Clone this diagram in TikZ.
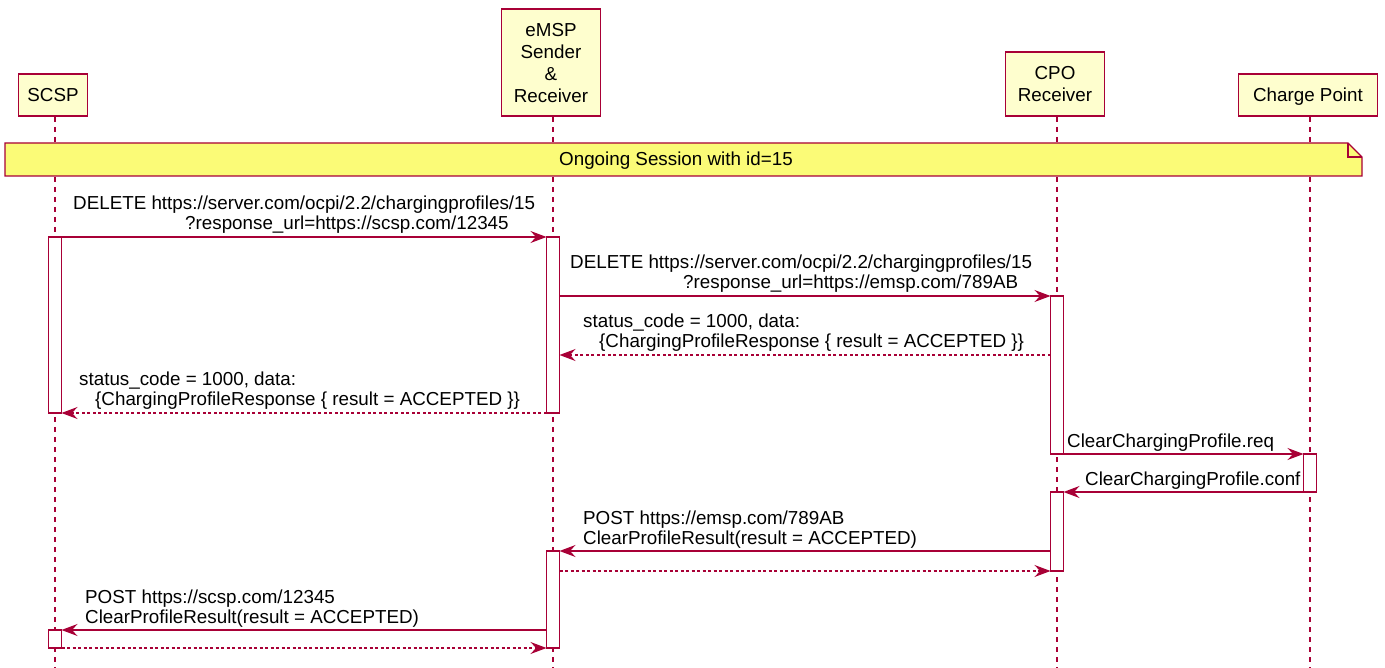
\documentclass[tikz,border=0pt]{standalone}
\usepackage{fontspec}
\setmainfont{Liberation Sans}
\usetikzlibrary{arrows.meta}
\definecolor{umlred}{HTML}{A80036}
\definecolor{partfill}{HTML}{FEFECE}
\definecolor{notefill}{HTML}{FBFB77}
\begin{document}
\begin{tikzpicture}[x=1pt,y=-1pt,
  every node/.style={font=\fontsize{18.8}{22}\selectfont, text=black},
  part/.style={draw=umlred, fill=partfill, line width=1.8pt, align=center, inner sep=0pt, anchor=south},
  lifeline/.style={draw=umlred, line width=1.1pt, dash pattern=on 5pt off 5pt},
  act/.style={draw=umlred, fill=white, line width=1.3pt, minimum width=13pt, inner sep=0pt, outer sep=0pt},
  msg/.style={draw=umlred, line width=1.3pt, -{Stealth[length=16pt,width=12pt,inset=5.5pt]}},
  ret/.style={msg, dash pattern=on 3pt off 2.5pt},
  lbl/.style={anchor=base west, inner sep=0pt},
  notebody/.style={draw=umlred, fill=notefill, line width=1.3pt, line join=miter},
]
\useasboundingbox (0,0) rectangle (1385,668);

% participants
\node[part, minimum width=69pt, minimum height=42pt] (scsp) at (53,117) {SCSP};
\node[part, minimum width=99pt, minimum height=107pt] (emsp) at (551,117) {eMSP\\Sender\\\&\\Receiver};
\node[part, minimum width=99pt, minimum height=64pt] (cpo) at (1055,117) {CPO\\Receiver};
\node[part, minimum width=139pt, minimum height=42pt, text depth=0pt] (cp) at (1308,117) {Charge Point};

% lifelines
\coordinate (scspEnd) at (55,668);
\coordinate (emspEnd) at (553,668);
\coordinate (cpoEnd) at (1057,668);
\coordinate (cpEnd) at (1310,668);
\draw[lifeline] (scspEnd |- scsp.south) -- (scspEnd);
\draw[lifeline] (emspEnd |- emsp.south) -- (emspEnd);
\draw[lifeline] (cpoEnd |- cpo.south) -- (cpoEnd);
\draw[lifeline] (cpEnd |- cp.south) -- (cpEnd);

% note
\path[notebody] (5,143) -- (1348,143) -- (1362,157) -- (1362,176) -- (5,176) -- cycle;
\draw[notebody, fill=none] (1348,143) -- (1348,157) -- (1362,157);
\node[anchor=base, inner sep=0pt] (note) at (676,166) {Ongoing Session with id=15};

% activations
\node[act, minimum height=176pt] (scspA1) at (55,325) {};
\node[act, minimum height=176pt] (emspA1) at (553,325) {};
\node[act, minimum height=158pt] (cpoA1) at (1057,375) {};
\node[act, minimum height=38pt] (cpA) at (1310,473) {};
\node[act, minimum height=79pt] (cpoA2) at (1057,531.5) {};
\node[act, minimum height=97pt] (emspA2) at (553,599.5) {};
\node[act, minimum height=18pt] (scspA2) at (55,639) {};

% messages
\coordinate (r3) at (0,355);
\draw[msg] (scspA1.north east) -- (emspA1.north west);
\draw[msg] (emspA1.east |- cpoA1.north) -- (cpoA1.north west);
\draw[ret] (cpoA1.west |- r3) -- (emspA1.east |- r3);
\draw[ret] (emspA1.south west) -- (scspA1.south east);
\draw[msg] (cpoA1.south east) -- (cpA.north west);
\draw[msg] (cpA.south west) -- (cpoA2.north east);
\draw[msg] (cpoA2.west |- emspA2.north) -- (emspA2.north east);
\draw[ret] (emspA2.east |- cpoA2.south) -- (cpoA2.south west);
\draw[msg] (emspA2.west |- scspA2.north) -- (scspA2.north east);
\draw[ret] (scspA2.south east) -- (emspA2.south west);

% labels
\node[lbl] (l1a) at (73,210) {DELETE https://server.com/ocpi/2.2/chargingprofiles/15};
\node[lbl] (l1b) at (185,230) {?response\_url=https://scsp.com/12345};
\node[lbl] (l2a) at (570,269) {DELETE https://server.com/ocpi/2.2/chargingprofiles/15};
\node[lbl] (l2b) at (683,289) {?response\_url=https://emsp.com/789AB};
\node[lbl] (l3a) at (583,328) {status\_code = 1000, data:};
\node[lbl] (l3b) at (599,348) {\{ChargingProfileResponse \{ result = ACCEPTED \}\}};
\node[lbl] (l4a) at (79,386) {status\_code = 1000, data:};
\node[lbl] (l4b) at (95,406) {\{ChargingProfileResponse \{ result = ACCEPTED \}\}};
\node[lbl] (l5) at (1067,447) {ClearChargingProfile.req};
\node[lbl] (l6) at (1085,485.5) {ClearChargingProfile.conf};
\node[lbl] (l7a) at (583,524) {POST https://emsp.com/789AB};
\node[lbl] (l7b) at (583,544) {ClearProfileResult(result = ACCEPTED)};
\node[lbl] (l9a) at (85,603) {POST https://scsp.com/12345};
\node[lbl] (l9b) at (85,623) {ClearProfileResult(result = ACCEPTED)};
\end{tikzpicture}
\end{document}
